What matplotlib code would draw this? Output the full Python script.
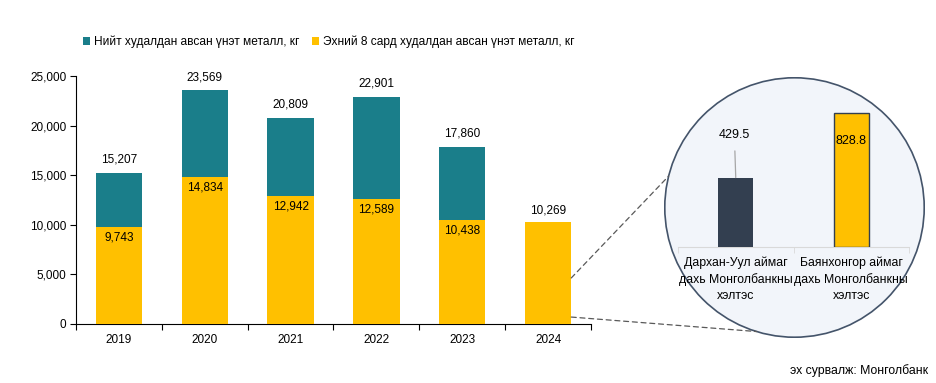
import numpy as np
import matplotlib
matplotlib.use("Agg")
import matplotlib.pyplot as plt
from matplotlib.patches import Circle, ConnectionPatch

plt.rcParams['font.family'] = ['Liberation Sans', 'DejaVu Sans']

# Өгөгдөл
years = ['2019', '2020', '2021', '2022', '2023', '2024']
total = [15207, 23569, 20809, 22901, 17860, np.nan]
first8 = [9743, 14834, 12942, 12589, 10438, 10269]
lbl_total = 'Нийт худалдан авсан үнэт металл, кг'
lbl_first8 = 'Эхний 8 сард худалдан авсан үнэт металл, кг'

branches = ['Дархан-Уул аймаг\nдахь Монголбанкны\nхэлтэс',
            'Баянхонгор аймаг\nдахь Монголбанкны\nхэлтэс']
branch_vals = [429.5, 828.8]

teal = '#1A7E8A'
yellow = '#FFC000'
dark = '#333F50'

W, H = 937, 383
fig = plt.figure(figsize=(W / 100, H / 100), dpi=100)

# Үндсэн график
ax = fig.add_axes([76 / W, 1 - 324 / H, (591 - 76) / W, (324 - 76) / H])
x = np.arange(len(years))
ax.bar(x, total, width=0.54, color=teal, label=lbl_total, zorder=2)
ax.bar(x, first8, width=0.54, color=yellow, label=lbl_first8, zorder=3)

for i in range(len(years)):
    if not np.isnan(total[i]):
        ax.annotate(f'{total[i]:,.0f}', (x[i], total[i]), xytext=(0, 9.5),
                    textcoords='offset points', ha='center', va='center', fontsize=8.5)
        ax.annotate(f'{first8[i]:,.0f}', (x[i], first8[i]), xytext=(0, -7.5),
                    textcoords='offset points', ha='center', va='center', fontsize=8.5)
    else:
        ax.annotate(f'{first8[i]:,.0f}', (x[i], first8[i]), xytext=(0, 8.5),
                    textcoords='offset points', ha='center', va='center', fontsize=8.5)

ax.set_xlim(-0.5, len(years) - 0.5)
ax.set_ylim(0, 25000)
ax.set_yticks(np.arange(0, 25001, 5000))
ax.set_yticklabels([f'{v:,}' for v in range(0, 25001, 5000)], fontsize=8.5)
ax.set_xticks(x)
ax.set_xticklabels(years, fontsize=8.5)
ax.set_xticks(np.arange(-0.5, len(years)), minor=True)
ax.tick_params(axis='x', which='major', length=0, pad=7)
ax.tick_params(axis='x', which='minor', length=4, width=0.8, direction='out')
ax.tick_params(axis='y', length=4, width=0.8, pad=3)
for s in ['top', 'right']:
    ax.spines[s].set_visible(False)
ax.spines['left'].set_linewidth(0.8)
ax.spines['bottom'].set_linewidth(0.8)

fig.legend(loc='center left', bbox_to_anchor=(78 / W, 1 - 42 / H), ncol=2,
           frameon=False, fontsize=8.6, handlelength=0.6, handleheight=0.6,
           handletextpad=0.3, columnspacing=1.1, borderaxespad=0)

# Тойрог
cax = fig.add_axes([664 / W, 1 - 338 / H, 261 / W, 261 / H])
cax.set_xlim(0, 1)
cax.set_ylim(0, 1)
cax.axis('off')
cax.add_patch(Circle((0.5, 0.5), 0.497, transform=cax.transAxes,
                     facecolor='#F2F5FA', edgecolor='#44546A', lw=1.2))

# Тойрог доторх график
bax = fig.add_axes([678 / W, 1 - 247 / H, 231 / W, 147 / H])
bax.patch.set_visible(False)
bx = np.arange(len(branches))
bax.bar(bx[0], branch_vals[0], width=0.3, color=dark, zorder=3)
bax.bar(bx[1], branch_vals[1], width=0.3, color=yellow, edgecolor=dark,
        linewidth=1, zorder=3)
bax.set_xlim(-0.5, 1.5)
bax.set_ylim(0, branch_vals[1] * 147 / 134)
bax.annotate(f'{branch_vals[0]}', (bx[0], branch_vals[0]), xytext=(-1, 30.5),
             textcoords='offset points', ha='center', va='center', fontsize=9,
             arrowprops=dict(arrowstyle='-', color='#A6A6A6', lw=0.9, shrinkA=5, shrinkB=0))
bax.annotate(f'{branch_vals[1]}', (bx[1], branch_vals[1]), xytext=(0, -20),
             textcoords='offset points', ha='center', va='center', fontsize=9)
bax.set_xticks(bx)
bax.set_xticklabels(branches, fontsize=8.8, linespacing=1.4)
bax.set_xticks([-0.5, 0.5, 1.5], minor=True)
bax.tick_params(axis='x', which='major', length=0, pad=7)
bax.tick_params(axis='x', which='minor', length=4, color='#D9D9D9')
bax.set_yticks([])
for s in ['top', 'right', 'left']:
    bax.spines[s].set_visible(False)
bax.spines['bottom'].set_color('#D9D9D9')

# Тасархай шугамууд
for yv, ang in [(4640, 166), (700, 253)]:
    t = np.deg2rad(ang)
    con = ConnectionPatch(xyA=(5.27, yv), coordsA='data', axesA=ax,
                          xyB=(0.5 + 0.497 * np.cos(t), 0.5 + 0.497 * np.sin(t)),
                          coordsB='axes fraction', axesB=cax,
                          color='#595959', linestyle=(0, (4, 3)), lw=0.9)
    fig.add_artist(con)

fig.text(928 / W, 1 - 371 / H, 'эх сурвалж: Монголбанк', ha='right', va='center',
         fontsize=8.8)

fig.savefig('out.png', dpi=100)
